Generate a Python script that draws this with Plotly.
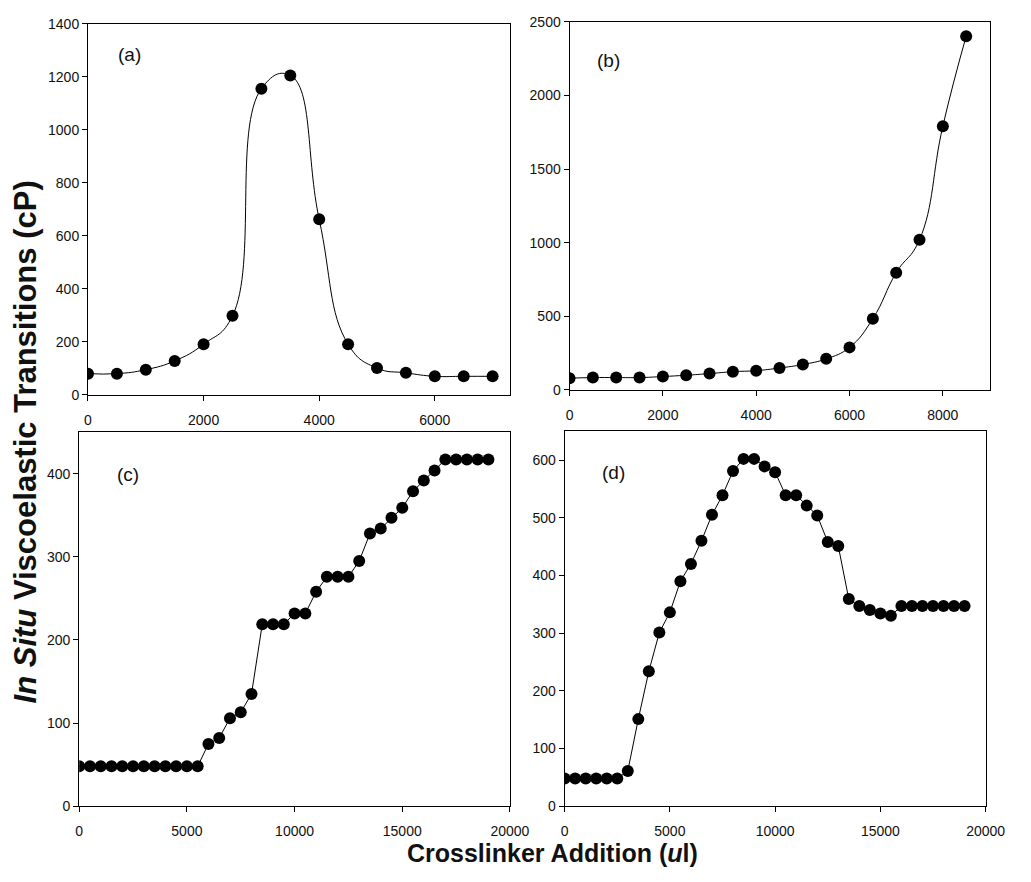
import plotly.graph_objects as go

# ---- data ----
a_x = [0, 500, 1000, 1500, 2000, 2500, 3000, 3500, 4000, 4500, 5000, 5500, 6000, 6500, 7000]
a_y = [80, 80, 95, 128, 191, 298, 1155, 1205, 662, 191, 101, 83, 70, 70, 70]

b_x = [0, 500, 1000, 1500, 2000, 2500, 3000, 3500, 4000, 4500, 5000, 5500, 6000, 6500, 7000, 7500, 8000, 8500]
b_y = [80, 84, 84, 84, 91, 100, 111, 124, 131, 149, 173, 211, 289, 484, 796, 1020, 1791, 2402]

c_x = [i * 500 for i in range(39)]
c_y = [48, 48, 48, 48, 48, 48, 48, 48, 48, 48, 48, 48,
       75, 82, 106, 113, 135, 219, 219, 219, 232, 232, 258, 276, 276, 276,
       295, 328, 334, 347, 359, 379, 392, 404, 417, 417, 417, 417, 417]

d_x = [i * 500 for i in range(39)]
d_y = [48, 48, 48, 48, 48, 48, 61, 151, 234, 301, 336, 390, 420, 460, 505, 539,
       581, 602, 602, 589, 579, 539, 539, 521, 504, 458, 451, 359, 347, 340,
       334, 330, 347, 347, 347, 347, 347, 347, 347]

panel_labels = ["(a)", "(b)", "(c)", "(d)"]
y_title = "<b><i>In Situ</i> Viscoelastic Transitions (cP)</b>"
x_title = "<b>Crosslinker Addition (<i>u</i>l)</b>"

W, H = 1031, 882
FONT = "Liberation Sans, Arial, Helvetica, sans-serif"

# panel geometry in pixels: (left, right, top, bottom)
geo = [(86, 518, 16, 394), (579, 1009, 14, 389), (77, 518, 432, 813), (574, 1005, 431, 813)]
xr = [[0, 7300], [0, 9000], [0, 20000], [0, 20000]]
yr = [[0, 1400], [0, 2500], [0, 450], [0, 650]]
xd = [2000, 2000, 5000, 5000]
yd = [200, 500, 100, 100]
shapes = ["spline", "spline", "linear", "linear"]
data = [(a_x, a_y), (b_x, b_y), (c_x, c_y), (d_x, d_y)]
label_pos = [(129, 47), (619, 53), (127, 475), (624, 473)]

fig = go.Figure()
layout = dict(width=W, height=H, margin=dict(l=0, r=0, t=0, b=0),
              paper_bgcolor="white", plot_bgcolor="white", showlegend=False,
              font=dict(family=FONT, color="#111", size=14))
annotations = []
for i, ((xs, ys), (l, r, t, b)) in enumerate(zip(data, geo)):
    n = "" if i == 0 else str(i + 1)
    fig.add_trace(go.Scatter(
        x=xs, y=ys, mode="lines+markers",
        line=dict(color="black", width=1, shape=shapes[i], smoothing=1.3),
        marker=dict(color="black", size=12),
        xaxis="x" + n, yaxis="y" + n))
    common = dict(showline=True, linecolor="black", linewidth=1, mirror=True,
                  ticks="outside", ticklen=5, tickcolor="black", showgrid=False,
                  zeroline=False, tickformat="d",
                  tickfont=dict(family=FONT, size=14, color="#111"))
    layout["xaxis" + n] = dict(domain=[l / W, r / W], range=xr[i], dtick=xd[i],
                               anchor="y" + n, ticklabelstandoff=7, **common)
    layout["yaxis" + n] = dict(domain=[1 - b / H, 1 - t / H], range=yr[i], dtick=yd[i],
                               anchor="x" + n, **common)
    annotations.append(dict(text=panel_labels[i], x=label_pos[i][0] / W, y=1 - label_pos[i][1] / H,
                            xref="paper", yref="paper", showarrow=False,
                            xanchor="center", yanchor="middle",
                            font=dict(family=FONT, size=19, color="#111")))

annotations.append(dict(text=y_title, x=23 / W, y=1 - 442 / H, xref="paper", yref="paper",
                        showarrow=False, textangle=-90, xanchor="center", yanchor="middle",
                        font=dict(family=FONT, size=31, color="#111")))
annotations.append(dict(text=x_title, x=562 / W, y=1 - 861 / H, xref="paper", yref="paper",
                        showarrow=False, xanchor="center", yanchor="middle",
                        font=dict(family=FONT, size=25, color="#111")))
layout["annotations"] = annotations
fig.update_layout(**layout)
fig.write_html("out.html")
